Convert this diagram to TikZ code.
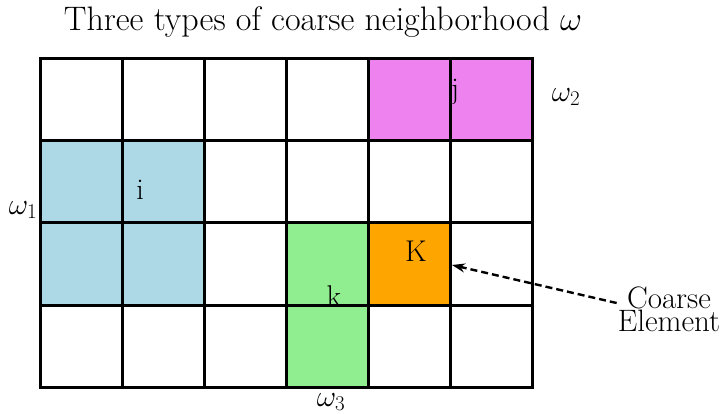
\RequirePackage{fix-cm}
\documentclass[tikz,border=0pt]{standalone}
\usetikzlibrary{arrows.meta}
\definecolor{cblue}{RGB}{173,216,230}
\definecolor{cviolet}{RGB}{238,130,238}
\definecolor{cgreen}{RGB}{144,238,144}
\definecolor{corange}{RGB}{255,165,0}
\begin{document}
\begin{tikzpicture}[x=1pt,y=-1pt,
  gridline/.style={line width=3pt,line cap=rect},
  lbl/.style={inner sep=0pt,font=\fontsize{30}{34}\selectfont},
  ttl/.style={inner sep=0pt,font=\fontsize{34}{38}\selectfont},
  pointer/.style={line width=2.4pt,dash pattern=on 7pt off 4pt,-{Stealth[length=13pt,width=9pt]}}]
\useasboundingbox (0,0) rectangle (723,414);
% coloured cells
\fill[cblue] (40,141) rectangle (204,305);
\fill[cviolet] (368,59) rectangle (532,141);
\fill[cgreen] (286,223) rectangle (368,387);
\fill[corange] (368,223) rectangle (450,305);
% grid
\foreach \x in {40,122,204,286,368,450,532}
  \draw[gridline] (\x,59) -- (\x,387);
\foreach \y in {59,141,223,305,387}
  \draw[gridline] (40,\y) -- (532,\y);
% labels
\node[ttl] (title) at (323,22) {Three types of coarse neighborhood $\omega$};
\node[lbl] (w1) at (23,210) {$\omega_1$};
\node[lbl] (w2) at (566,97) {$\omega_2$};
\node[lbl] (w3) at (331,402) {$\omega_3$};
\node[lbl] (i) at (140,190) {i};
\node[lbl] (j) at (455,92) {j};
\node[lbl] (k) at (334,296) {k};
\node[lbl] (K) at (416,251) {K};
\node[lbl,align=center,font=\fontsize{31}{23}\selectfont] (ce) at (669,309) {Coarse\\Element};
\coordinate (ktip) at (452,265);
\draw[pointer] (ce.west) ++(-1,-6) coordinate (cs) (cs) -- (ktip);
\end{tikzpicture}
\end{document}
